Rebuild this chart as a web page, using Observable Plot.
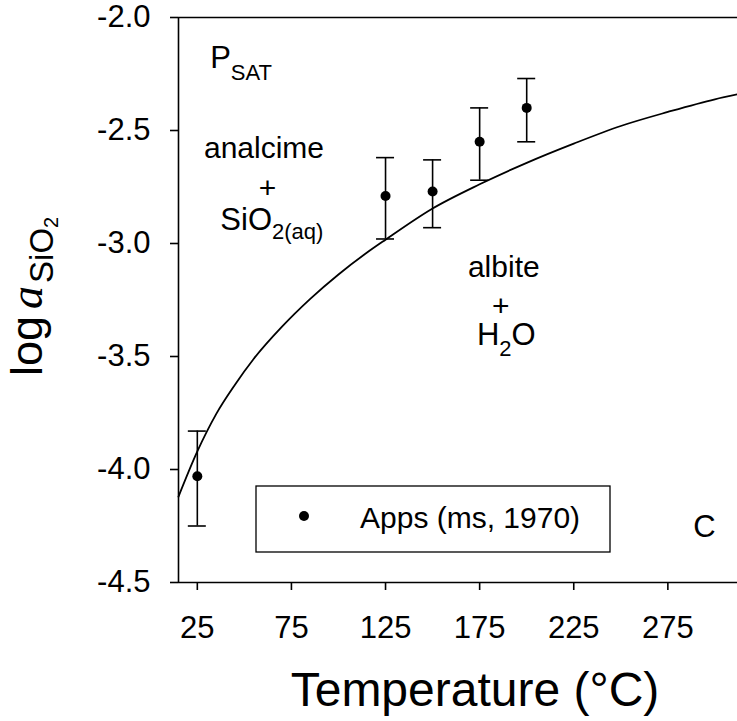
<!DOCTYPE html>
<html><head><meta charset="utf-8">
<script src="https://cdn.jsdelivr.net/npm/d3@7"></script>
<script src="https://cdn.jsdelivr.net/npm/@observablehq/plot@0.6"></script>
<style>
body{margin:0;background:#fff;}
svg{display:block;}
</style></head><body><div id="chart"></div>
<script>
// ---- data ----
const xDomain = [15, 312];
const yDomain = [-4.5, -2.0];
const xTicks = [25, 75, 125, 175, 225, 275];
const yTicks = [-2.0, -2.5, -3.0, -3.5, -4.0, -4.5];
// Apps (ms, 1970) observations
const obsT    = [25, 125, 150, 175, 200];
const obsLog  = [-4.03, -2.79, -2.77, -2.55, -2.40];
const obsLow  = [-4.25, -2.98, -2.93, -2.72, -2.55];
const obsHigh = [-3.83, -2.62, -2.63, -2.40, -2.27];
// analcime + SiO2(aq) = albite + H2O equilibrium curve
const curveT   = [15, 25, 35, 45, 55, 70, 85, 100, 115, 125, 150, 175, 200, 225, 250, 275, 300, 312];
const curveLog = [-4.12, -3.92, -3.755, -3.625, -3.51, -3.368, -3.245, -3.137, -3.041, -2.983, -2.845, -2.738, -2.643, -2.558, -2.48, -2.418, -2.362, -2.34];
const legendLabel = "Apps (ms, 1970)";

const obs = obsT.map((t, i) => ({t, v: obsLog[i], lo: obsLow[i], hi: obsHigh[i]}));
const curve = curveT.map((t, i) => ({t, v: curveLog[i]}));

const FONT = "'Liberation Sans', Arial, Helvetica, sans-serif";
const SERIF = "'Liberation Serif', 'Times New Roman', 'DejaVu Serif', serif";

const plot = Plot.plot({
  width: 737, height: 721,
  marginLeft: 178, marginRight: 0, marginTop: 17, marginBottom: 139,
  style: {fontFamily: FONT, fontSize: "31px", color: "#000", background: "#fff", overflow: "visible"},
  x: {domain: xDomain, ticks: xTicks, tickSize: 8, tickPadding: 25, tickFormat: d => String(d), label: null},
  y: {domain: yDomain, ticks: yTicks, tickSize: 8, tickPadding: 20, tickFormat: d => d.toFixed(1), label: null},
  marks: [
    Plot.ruleY(yDomain, {stroke: "#000", strokeWidth: 1.6}),
    Plot.ruleX([xDomain[0]], {stroke: "#000", strokeWidth: 1.6}),
    Plot.line(curve, {x: "t", y: "v", curve: "monotone-x", stroke: "#000", strokeWidth: 1.8}),
    Plot.ruleX(obs, {x: "t", y1: "lo", y2: "hi", stroke: "#000", strokeWidth: 1.6}),
    Plot.ruleY(obs, {y: "lo", x1: "t", x2: "t", insetLeft: -9, insetRight: -9, stroke: "#000", strokeWidth: 1.6}),
    Plot.ruleY(obs, {y: "hi", x1: "t", x2: "t", insetLeft: -9, insetRight: -9, stroke: "#000", strokeWidth: 1.6}),
    Plot.dot(obs, {x: "t", y: "v", r: 5, fill: "#000", stroke: "none"})
  ]
});
document.getElementById("chart").appendChild(plot);

const sx = plot.scale("x"), sy = plot.scale("y");
const svg = d3.select(plot);
svg.selectAll("[aria-label='x-axis tick'], [aria-label='y-axis tick']").attr("stroke-width", 1.6);
svg.selectAll("[aria-label='x-axis tick label'], [aria-label='y-axis tick label']").attr("font-size", 31);

// annotation helper: parts = [[text, size, baselineShift]]
function note(t, v, anchor, parts) {
  const txt = svg.append("text")
    .attr("x", sx.apply(t)).attr("y", sy.apply(v))
    .attr("text-anchor", anchor)
    .attr("font-family", FONT).attr("fill", "#000");
  let shift = 0;
  parts.forEach(([s, size, sh]) => {
    const ts = txt.append("tspan").text(s).attr("font-size", size);
    const d = sh - shift;
    if (d !== 0) ts.attr("dy", d);
    shift = sh;
  });
}
note(32.1, -2.226, "start", [["P", 31, 0], ["SAT", 22, 12]]);
note(60.7, -2.624, "middle", [["analcime", 30, 0]]);
note(62.5, -2.80, "middle", [["+", 30, 0]]);
note(37.5, -2.942, "start", [["SiO", 31, 0], ["2(aq)", 22, 9]]);
note(188.1, -3.150, "middle", [["albite", 30, 0]]);
note(186.5, -3.323, "middle", [["+", 30, 0]]);
note(173.8, -3.451, "start", [["H", 31, 0], ["2", 22, 11], ["O", 31, 0]]);
note(294.7, -4.30, "middle", [["C", 31, 0]]);

// legend box
const lg = svg.append("g");
lg.append("rect").attr("x", 256).attr("y", 486).attr("width", 354).attr("height", 66)
  .attr("fill", "none").attr("stroke", "#000").attr("stroke-width", 1.3);
lg.append("circle").attr("cx", 304).attr("cy", 516).attr("r", 5).attr("fill", "#000");
lg.append("text").attr("x", 360).attr("y", 528).attr("text-anchor", "start")
  .attr("font-family", FONT).attr("font-size", 30).attr("fill", "#000").text(legendLabel);

// axis titles
svg.append("text").attr("x", 475).attr("y", 706).attr("text-anchor", "middle")
  .attr("font-family", FONT).attr("font-size", 48).attr("fill", "#000").text("Temperature (°C)");
const yt = svg.append("text").attr("transform", "translate(42,376) rotate(-90)")
  .attr("text-anchor", "start").attr("font-family", FONT).attr("fill", "#000");
yt.append("tspan").attr("font-size", 45).text("log");
yt.append("tspan").attr("dx", 7)
  .attr("style", `font-family:${SERIF};font-style:italic;font-size:46px`).text("a");
yt.append("tspan").attr("font-size", 33).attr("dy", 11).attr("dx", 3).text("SiO");
yt.append("tspan").attr("font-size", 20).attr("dy", 5).text("2");
</script></body></html>
